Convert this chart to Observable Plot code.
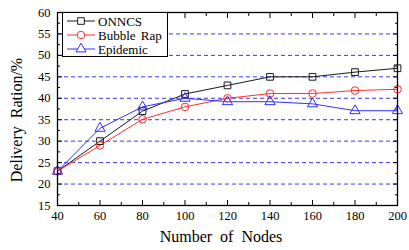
<!DOCTYPE html>
<html>
<head>
<meta charset="utf-8">
<script src="https://cdn.jsdelivr.net/npm/d3@7"></script>
<script src="https://cdn.jsdelivr.net/npm/@observablehq/plot@0.6"></script>
<style>
  html, body { margin: 0; padding: 0; background: white; }
  #wrap { position: relative; width: 409px; height: 250px; font-family: "Liberation Serif", "DejaVu Serif", serif; }
  #legend { position: absolute; left: 62px; top: 12px; width: 106px; height: 45px; border: 1px solid black; background: white; box-sizing: border-box; }
  .ytitle { position: absolute; left: 17px; top: 120px; transform: translate(-50%, -50%) rotate(-90deg); font-size: 16px; white-space: nowrap; word-spacing: 4px; }
  .xtitle { position: absolute; left: 221px; top: 228px; transform: translateX(-50%); font-size: 16px; white-space: nowrap; word-spacing: 4px; }
</style>
</head>
<body>
<div id="wrap"></div>
<script>
const nodes = [40, 60, 80, 100, 120, 140, 160, 180, 200];
const onncs = [23, 30, 37, 41, 43, 45, 45, 46.1, 47];
const bubbleRap = [23, 29, 35.1, 38, 40, 41.1, 41.1, 41.8, 42.1];
const epidemic = [23, 33, 38, 40, 39.2, 39.2, 38.7, 37.1, 37.1];
const seriesNames = ["ONNCS", "Bubble Rap", "Epidemic"];
const seriesColors = ["#1a1a1a", "#ff3030", "#3030ff"];
const seriesSymbols = ["square", "circle", "triangle"];
const xTicks = [40, 60, 80, 100, 120, 140, 160, 180, 200];
const xMinorTicks = [50, 70, 90, 110, 130, 150, 170, 190];
const yTicks = [15, 20, 25, 30, 35, 40, 45, 50, 55, 60];
const yMinorTicks = [17.5, 22.5, 27.5, 32.5, 37.5, 42.5, 47.5, 52.5, 57.5];
const gridValues = [20, 25, 30, 35, 40, 45, 50, 55];
const xTitle = "Number of Nodes";
const yTitle = "Delivery Ration/%";

const seriesValues = [onncs, bubbleRap, epidemic];
const rows = [];
seriesNames.forEach((name, i) => {
  nodes.forEach((n, j) => rows.push({series: name, nodes: n, value: seriesValues[i][j]}));
});

const noText = () => "";
const plot = Plot.plot({
  width: 409,
  height: 250,
  marginLeft: 57,
  marginRight: 12,
  marginTop: 12,
  marginBottom: 45,
  style: {fontFamily: "'Liberation Serif', 'DejaVu Serif', serif", fontSize: "12.5px", color: "black", background: "white"},
  x: {domain: [40, 200]},
  y: {domain: [15, 60]},
  color: {domain: seriesNames, range: seriesColors},
  symbol: {domain: seriesNames, range: seriesSymbols},
  marks: [
    Plot.ruleY(gridValues, {stroke: "#3a3aee", strokeDasharray: "4,3", strokeWidth: 1}),
    Plot.axisX({anchor: "bottom", ticks: xTicks, tickSize: 0, tickPadding: 6, label: null}),
    Plot.axisX({anchor: "bottom", ticks: xTicks, tickSize: -5, tickFormat: noText, label: null}),
    Plot.axisX({anchor: "bottom", ticks: xMinorTicks, tickSize: -3, tickFormat: noText, label: null}),
    Plot.axisX({anchor: "top", ticks: xTicks, tickSize: -5, tickFormat: noText, label: null}),
    Plot.axisX({anchor: "top", ticks: xMinorTicks, tickSize: -3, tickFormat: noText, label: null}),
    Plot.axisY({anchor: "left", ticks: yTicks, tickSize: 0, tickPadding: 7, label: null}),
    Plot.axisY({anchor: "left", ticks: yTicks, tickSize: -5, tickFormat: noText, label: null}),
    Plot.axisY({anchor: "left", ticks: yMinorTicks, tickSize: -3, tickFormat: noText, label: null}),
    Plot.axisY({anchor: "right", ticks: yTicks, tickSize: -5, tickFormat: noText, label: null}),
    Plot.axisY({anchor: "right", ticks: yMinorTicks, tickSize: -3, tickFormat: noText, label: null}),
    Plot.line(rows, {x: "nodes", y: "value", z: "series", stroke: "series", strokeWidth: 1}),
    Plot.dot(rows, {x: "nodes", y: "value", symbol: "series", stroke: "series", fill: "none", r: 3.8, strokeWidth: 1}),
    Plot.frame({stroke: "black", strokeWidth: 1.3})
  ]
});

const wrap = document.getElementById("wrap");
wrap.appendChild(plot);

// axis titles
const yt = document.createElement("div");
yt.className = "ytitle"; yt.textContent = yTitle; wrap.appendChild(yt);
const xt = document.createElement("div");
xt.className = "xtitle"; xt.textContent = xTitle; wrap.appendChild(xt);

// legend
const legend = document.createElement("div");
legend.id = "legend";
const lsvg = d3.create("svg").attr("width", 106).attr("height", 45).style("position", "absolute").style("left", 0).style("top", 0);
seriesNames.forEach((name, i) => {
  const g = lsvg.append("g").attr("transform", `translate(0, ${8 + i * 14})`);
  g.append("line").attr("x1", 4).attr("x2", 32).attr("y1", 0).attr("y2", 0).attr("stroke", seriesColors[i]).attr("stroke-width", 1);
  const sym = {square: d3.symbolSquare, circle: d3.symbolCircle, triangle: d3.symbolTriangle}[seriesSymbols[i]];
  g.append("path").attr("d", d3.symbol(sym, Math.PI * 14)()).attr("transform", "translate(18,0)")
    .attr("fill", "white").attr("stroke", seriesColors[i]).attr("stroke-width", 1);
  g.append("text").attr("x", 35).attr("y", 0).attr("dy", "0.35em").attr("font-size", 13)
    .attr("font-family", "'Liberation Serif', 'DejaVu Serif', serif").attr("word-spacing", "2px").text(name);
});
legend.appendChild(lsvg.node());
wrap.appendChild(legend);
</script>
</body>
</html>
